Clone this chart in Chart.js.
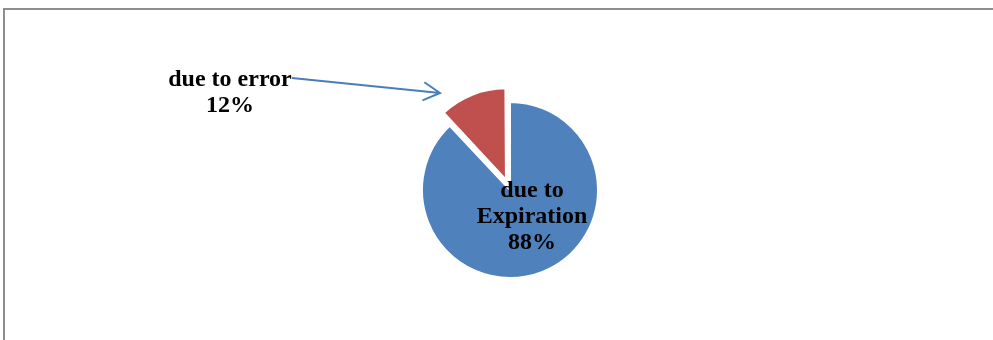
<!DOCTYPE html>
<html>
<head>
<meta charset="utf-8">
<script src="https://cdn.jsdelivr.net/npm/chart.js@4"></script>
<style>
  html, body { margin: 0; padding: 0; background: #fff; }
  #frame {
    position: absolute; left: 3px; top: 8px; width: 990px; height: 332px;
    border-top: 2px solid #8e8e8e; border-left: 2px solid #8e8e8e;
  }
  #wrap { position: absolute; left: 0; top: 0; width: 993px; height: 340px; }
</style>
</head>
<body>
<div id="frame"></div>
<div id="wrap"><canvas id="pieChart"></canvas></div>
<script>
// data of pieChart
const labels = ['due to Expiration', 'due to error'];
const values = [88, 12];
const colours = ['#4F81BD', '#C0504D'];
const offsets = [0, 44];

// labels drawn in the slide style (bold serif, black)
const sliceLabels = {
  id: 'sliceLabels',
  afterDatasetsDraw(chart) {
    const ctx = chart.ctx;
    const arcs = chart.getDatasetMeta(0).data;
    const total = values.reduce((a, b) => a + b, 0);
    const pct = values.map(v => Math.round(v / total * 100) + '%');
    const cx = arcs[0].x, cy = arcs[0].y;
    ctx.save();
    ctx.fillStyle = '#000';
    ctx.font = 'bold 24px "Liberation Serif", "Times New Roman", serif';
    ctx.textAlign = 'center';
    ctx.textBaseline = 'middle';

    // blue slice label inside the pie
    const blue = ['due to', 'Expiration', pct[0]];
    blue.forEach((t, i) => ctx.fillText(t, cx + 22, cy + 1 + i * 26));

    // red slice label off to the left, with an arrow
    const lx = cx - 280, ly = cy - 110;
    ctx.fillText('due to error', lx, ly);
    ctx.fillText(pct[1], lx, ly + 26);

    const x0 = lx + 62, y0 = ly - 2;
    const x1 = cx - 70, y1 = cy - 97;
    ctx.strokeStyle = '#4A7EBB';
    ctx.lineWidth = 2;
    ctx.beginPath();
    ctx.moveTo(x0, y0);
    ctx.lineTo(x1, y1);
    const a = Math.atan2(y1 - y0, x1 - x0);
    const h = 19, w = 0.5;
    ctx.moveTo(x1 - h * Math.cos(a - w), y1 - h * Math.sin(a - w));
    ctx.lineTo(x1, y1);
    ctx.lineTo(x1 - h * Math.cos(a + w), y1 - h * Math.sin(a + w));
    ctx.stroke();
    ctx.restore();
  }
};

const datapie = {
  labels: labels,
  datasets: [{
    data: values,
    backgroundColor: colours,
    borderColor: '#ffffff',
    borderWidth: 2,
    offset: offsets
  }]
};

const configpie = {
  type: 'pie',
  data: datapie,
  options: {
    responsive: false,
    animation: false,
    layout: { padding: { left: 399, right: 372, top: 79, bottom: 39 } },
    plugins: {
      legend: { display: false },
      tooltip: { enabled: false }
    }
  },
  plugins: [sliceLabels]
};

const canvas = document.getElementById('pieChart');
canvas.width = 993;
canvas.height = 340;
const pieChart = new Chart(canvas, configpie);
</script>
</body>
</html>
